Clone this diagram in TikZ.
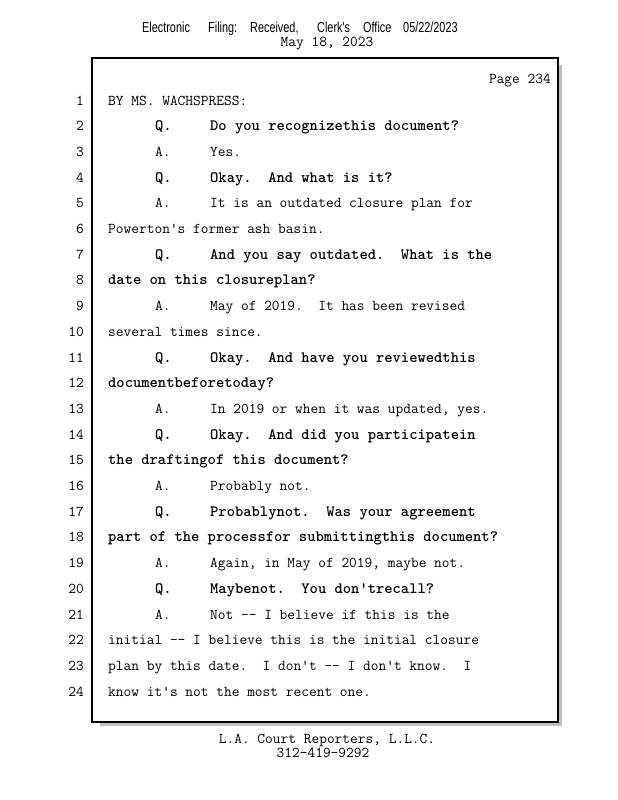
\documentclass[tikz,border=0pt]{standalone}
\usepackage{fontspec}
\usepackage{tikz}
\usetikzlibrary{positioning}
\newfontfamily\filing[FakeStretch=0.75]{Liberation Sans}
\newcommand\rowy[1]{105+25.7*(#1-1)}
\newcommand\qa[1]{\makebox[55pt][l]{#1}}
\frenchspacing

\begin{document}
\begin{tikzpicture}[x=1pt,y=-1pt,
      num/.style={anchor=base east, inner sep=0pt, font=\ttfamily\fontsize{15}{18}\selectfont},
      plain/.style={anchor=base west, inner sep=0pt, font=\ttfamily\fontsize{15}{18}\selectfont},
      qline/.style={anchor=base west, inner sep=0pt, font=\ttfamily\bfseries\fontsize{15.8}{18}\selectfont},
      head/.style={anchor=base west, inner sep=0pt, font=\filing\fontsize{14.5}{17}\selectfont},
      foot/.style={anchor=base, inner sep=0pt, font=\ttfamily\fontsize{15}{18}\selectfont}]

\useasboundingbox (0,0) rectangle (618,800);

% header
\foreach \x/\w [count=\i] in {142/Electronic, 208/Filing:, 250/{Received,}, 317/Clerk's, 363/Office, 403/{05/22/2023}}
  \node[head] (h\i) at (\x,33) {\w};
\node[foot] (date) at (327,47) {May 18, 2023};

% page box with shadow
\fill[gray!50] (100,65) rectangle (562,726);
\draw[fill=white, line width=1.3pt] (92,58) rectangle (558,722);
\node[num] (page) at (551,84) {Page 234};

% line numbers
\foreach \n in {1,...,24}
  \node[num] (n\n) at (84,{\rowy{\n}}) {\n};

% testimony
\node[plain] (l1) at (108,{\rowy{1}}) {BY MS. WACHSPRESS:};
\node[qline] (l2) at (155,{\rowy{2}}) {\qa{Q.}Do you recognizethis document?};
\node[plain] (l3) at (155,{\rowy{3}}) {\qa{A.}Yes.};
\node[qline] (l4) at (155,{\rowy{4}}) {\qa{Q.}Okay.~ And what is it?};
\node[plain] (l5) at (155,{\rowy{5}}) {\qa{A.}It is an outdated closure plan for};
\node[plain] (l6) at (108,{\rowy{6}}) {Powerton's former ash basin.};
\node[qline] (l7) at (155,{\rowy{7}}) {\qa{Q.}And you say outdated.~ What is the};
\node[qline] (l8) at (108,{\rowy{8}}) {date on this closureplan?};
\node[plain] (l9) at (155,{\rowy{9}}) {\qa{A.}May of 2019.~ It has been revised};
\node[plain] (l10) at (108,{\rowy{10}}) {several times since.};
\node[qline] (l11) at (155,{\rowy{11}}) {\qa{Q.}Okay.~ And have you reviewedthis};
\node[qline] (l12) at (108,{\rowy{12}}) {documentbeforetoday?};
\node[plain] (l13) at (155,{\rowy{13}}) {\qa{A.}In 2019 or when it was updated, yes.};
\node[qline] (l14) at (155,{\rowy{14}}) {\qa{Q.}Okay.~ And did you participatein};
\node[qline] (l15) at (108,{\rowy{15}}) {the draftingof this document?};
\node[plain] (l16) at (155,{\rowy{16}}) {\qa{A.}Probably not.};
\node[qline] (l17) at (155,{\rowy{17}}) {\qa{Q.}Probablynot.~ Was your agreement};
\node[qline] (l18) at (108,{\rowy{18}}) {part of the processfor submittingthis document?};
\node[plain] (l19) at (155,{\rowy{19}}) {\qa{A.}Again, in May of 2019, maybe not.};
\node[qline] (l20) at (155,{\rowy{20}}) {\qa{Q.}Maybenot.~ You don'trecall?};
\node[plain] (l21) at (155,{\rowy{21}}) {\qa{A.}Not -- I believe if this is the};
\node[plain] (l22) at (108,{\rowy{22}}) {initial -- I believe this is the initial closure};
\node[plain] (l23) at (108,{\rowy{23}}) {plan by this date.~ I don't -- I don't know.~ I};
\node[plain] (l24) at (108,{\rowy{24}}) {know it's not the most recent one.};

% footer
\node[foot] (firm) at (327,743) {L.A. Court Reporters, L.L.C.};
\node[foot] (phone) at (323,757) {312-419-9292};

\end{tikzpicture}
\end{document}
